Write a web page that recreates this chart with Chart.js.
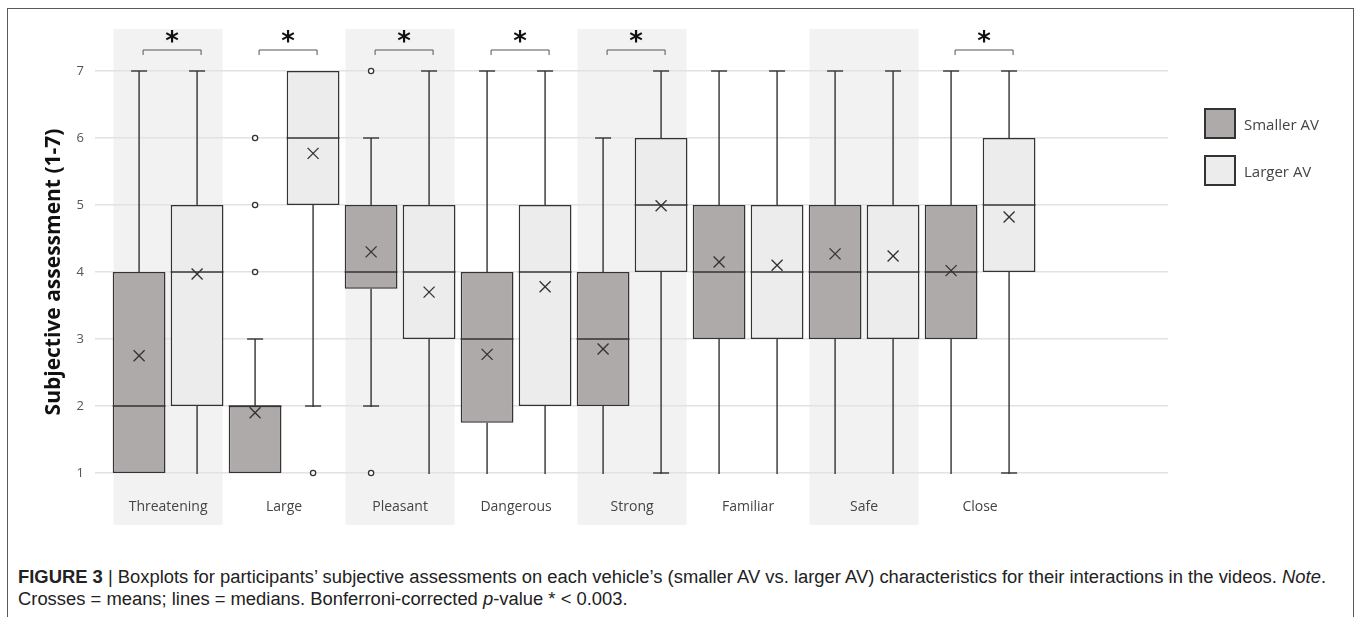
<!DOCTYPE html>
<html>
<head>
<meta charset="utf-8">
<script src="https://cdn.jsdelivr.net/npm/chart.js@4.4.1/dist/chart.umd.min.js"></script>
<style>
  html, body { margin: 0; padding: 0; background: #fff; }
  body { width: 1358px; height: 617px; position: relative; overflow: hidden; }
  #frame {
    position: absolute; left: 7px; top: 8px; width: 1347px; height: 640px;
    border: 1.5px solid #5a5a5a; box-sizing: border-box;
  }
  #chart { position: absolute; left: 0; top: 0; }
  .legend-item { position: absolute; display: flex; align-items: center;
    font: 15px "Open Sans", sans-serif; color: #444; }
  .legend-swatch { width: 32px; height: 31px; box-sizing: border-box;
    border: 2px solid #333; margin-right: 8px; }
  #caption {
    position: absolute; left: 18px; top: 566px; white-space: nowrap;
    font: 18px "Liberation Sans", Arial, sans-serif;
    line-height: 22px; color: #222; transform-origin: 0 0;
  }
</style>
</head>
<body>
<div id="frame"></div>
<canvas id="chart" width="1358" height="540"></canvas>
<div id="legend"></div>
<div id="caption"><span id="cap1"><b>FIGURE 3</b> | Boxplots for participants’ subjective assessments on each vehicle’s (smaller AV vs. larger AV) characteristics for their interactions in the videos. <i>Note</i>.</span><br>Crosses = means; lines = medians. Bonferroni-corrected <i>p</i>-value * &lt; 0.003.</div>
<script>
/* ---- Data ---- */
const categories = ['Threatening', 'Large', 'Pleasant', 'Dangerous', 'Strong', 'Familiar', 'Safe', 'Close'];
const significant = [true, true, true, true, true, false, false, true];
const shadedBands = [true, false, true, false, true, false, true, false];

const smallerMin      = [1, 1, 2, 1, 1, 1, 1, 1];
const smallerQ1       = [1, 1, 3.75, 1.75, 2, 3, 3, 3];
const smallerMedian   = [2, 2, 4, 3, 3, 4, 4, 4];
const smallerQ3       = [4, 2, 5, 4, 4, 5, 5, 5];
const smallerMax      = [7, 3, 6, 7, 6, 7, 7, 7];
const smallerMean     = [2.75, 1.9, 4.3, 2.77, 2.85, 4.15, 4.27, 4.02];
const smallerOutliers = [[], [4, 5, 6], [7, 1], [], [], [], [], []];
const smallerLowCap   = [false, false, true, false, false, false, false, false];

const largerMin      = [1, 2, 1, 1, 1, 1, 1, 1];
const largerQ1       = [2, 5, 3, 2, 4, 3, 3, 4];
const largerMedian   = [4, 6, 4, 4, 5, 4, 4, 5];
const largerQ3       = [5, 7, 5, 5, 6, 5, 5, 6];
const largerMax      = [7, 7, 7, 7, 7, 7, 7, 7];
const largerMean     = [3.97, 5.77, 3.7, 3.78, 4.99, 4.1, 4.24, 4.82];
const largerOutliers = [[], [1], [], [], [], [], [], []];
const largerLowCap   = [false, true, false, false, true, false, false, true];

const yTicks = [1, 2, 3, 4, 5, 6, 7];

const SMALLER_FILL = '#aeaaa9';
const LARGER_FILL  = '#ececec';
const INK = '#333';

function boxDataset(label, fill, q1, q3, stats) {
  return {
    label,
    data: categories.map((c, i) => ({ x: i, y: [q1[i], q3[i]] })),
    stats,
    backgroundColor: fill,
    borderColor: INK,
    borderWidth: 1.5,
    borderSkipped: false,
    categoryPercentage: 1,
    barPercentage: 0.91,
    clip: false,
  };
}

/* ---- Legend (html) ---- */
const legendItems = [
  { label: 'Smaller AV', color: SMALLER_FILL, top: 108 },
  { label: 'Larger AV', color: LARGER_FILL, top: 155 },
];
document.getElementById('legend').innerHTML = legendItems.map((it) =>
  `<div class="legend-item" style="left:1204px;top:${it.top}px">
     <div class="legend-swatch" style="background:${it.color}"></div>${it.label}
   </div>`).join('');

/* ---- Caption: squeeze to the reference's condensed width ---- */
const cap = document.getElementById('caption');
const capW = document.getElementById('cap1').getBoundingClientRect().width;
cap.style.transform = `scaleX(${1308 / capW})`;

/* ---- Box extras: bands, whiskers, medians, means, outliers, brackets ---- */
const boxExtras = {
  id: 'boxExtras',
  beforeDraw(chart) {
    const { ctx, chartArea, scales: { x } } = chart;
    ctx.save();
    ctx.fillStyle = '#f2f2f2';
    shadedBands.forEach((on, i) => {
      if (!on) return;
      const l = x.getPixelForValue(i - 0.47);
      const r = x.getPixelForValue(i + 0.47);
      ctx.fillRect(l, chartArea.top - 42, r - l, chartArea.bottom - chartArea.top + 94);
    });
    ctx.restore();
  },
  afterDatasetsDraw(chart) {
    const { ctx, chartArea, scales: { y } } = chart;
    ctx.save();
    ctx.strokeStyle = INK;
    ctx.lineWidth = 1.4;
    const line = (x1, y1, x2, y2) => {
      ctx.beginPath(); ctx.moveTo(x1, y1); ctx.lineTo(x2, y2); ctx.stroke();
    };
    chart.data.datasets.forEach((ds, di) => {
      const meta = chart.getDatasetMeta(di);
      const s = ds.stats;
      meta.data.forEach((bar, i) => {
        const cx = bar.x;
        const half = bar.width / 2;
        const [q1, q3] = ds.data[i].y;
        // whiskers + caps
        if (s.max[i] > q3) {
          const ty = y.getPixelForValue(s.max[i]);
          line(cx, y.getPixelForValue(q3), cx, ty);
          line(cx - 8, ty, cx + 8, ty);
        }
        if (s.min[i] < q1) {
          const by = y.getPixelForValue(s.min[i]);
          line(cx, y.getPixelForValue(q1), cx, by + 1);
          if (s.lowCap[i]) line(cx - 8, by, cx + 8, by);
        }
        // median
        const my = y.getPixelForValue(s.median[i]);
        line(cx - half, my, cx + half, my);
        // mean cross
        const ey = y.getPixelForValue(s.mean[i]);
        ctx.lineWidth = 1.3;
        line(cx - 5.5, ey - 5.5, cx + 5.5, ey + 5.5);
        line(cx - 5.5, ey + 5.5, cx + 5.5, ey - 5.5);
        // outliers
        ctx.fillStyle = '#fff';
        s.outliers[i].forEach((v) => {
          ctx.beginPath();
          ctx.arc(cx, y.getPixelForValue(v), 2.6, 0, Math.PI * 2);
          ctx.fill(); ctx.stroke();
        });
        ctx.lineWidth = 1.4;
      });
    });

    // significance brackets
    const m0 = chart.getDatasetMeta(0);
    const m1 = chart.getDatasetMeta(1);
    ctx.lineWidth = 1;
    ctx.strokeStyle = '#555';
    ctx.fillStyle = '#111';
    ctx.font = 'bold 26px "DejaVu Sans", sans-serif';
    ctx.textAlign = 'center';
    ctx.textBaseline = 'middle';
    significant.forEach((sig, i) => {
      if (!sig) return;
      const l = m0.data[i].x + 4;
      const r = m1.data[i].x + 4;
      const top = chartArea.top - 21;
      ctx.beginPath();
      ctx.moveTo(l, top + 5); ctx.lineTo(l, top); ctx.lineTo(r, top); ctx.lineTo(r, top + 5);
      ctx.stroke();
      ctx.fillText('*', (l + r) / 2, chartArea.top - 28);
    });
    ctx.restore();
  },
};

/* ---- Chart ---- */
new Chart(document.getElementById('chart'), {
  type: 'bar',
  data: {
    datasets: [
      boxDataset('Smaller AV', SMALLER_FILL, smallerQ1, smallerQ3, {
        median: smallerMedian, min: smallerMin, max: smallerMax,
        mean: smallerMean, outliers: smallerOutliers, lowCap: smallerLowCap,
      }),
      boxDataset('Larger AV', LARGER_FILL, largerQ1, largerQ3, {
        median: largerMedian, min: largerMin, max: largerMax,
        mean: largerMean, outliers: largerOutliers, lowCap: largerLowCap,
      }),
    ],
  },
  options: {
    responsive: false,
    animation: false,
    devicePixelRatio: 1,
    layout: { padding: { left: 0, right: 190, top: 71, bottom: 17 } },
    plugins: { legend: { display: false }, tooltip: { enabled: false } },
    scales: {
      x: {
        type: 'linear',
        offset: false,
        min: -0.63,
        max: 8.62,
        afterBuildTicks: (scale) => { scale.ticks = categories.map((c, i) => ({ value: i })); },
        afterFit: (scale) => { scale.height = 50; },
        grid: { display: false, drawTicks: false, offset: false },
        border: { display: false },
        ticks: {
          autoSkip: false, maxRotation: 0, padding: 26,
          color: '#444',
          font: { family: '"Open Sans", sans-serif', size: 14 },
          callback: (value) => categories[value] ?? '',
        },
      },
      y: {
        min: 1,
        max: 7,
        afterBuildTicks: (scale) => { scale.ticks = yTicks.map((v) => ({ value: v })); },
        afterFit: (scale) => { scale.width = 95; },
        grid: { color: '#e2e2e2', lineWidth: 1.5, drawTicks: false },
        border: { display: false },
        ticks: {
          padding: 11, color: '#555',
          font: { family: '"Open Sans", sans-serif', size: 13 },
        },
        title: {
          display: true,
          text: 'Subjective assessment (1-7)',
          color: '#111',
          padding: { top: 41, bottom: 0 },
          font: { family: '"Open Sans", sans-serif', size: 21, weight: 'bold' },
        },
      },
    },
  },
  plugins: [boxExtras],
});
</script>
</body>
</html>
